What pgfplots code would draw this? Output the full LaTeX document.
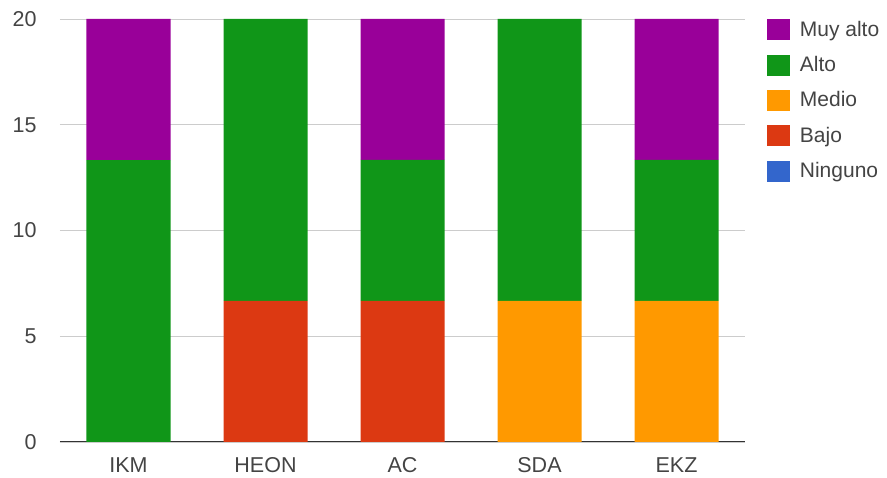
\documentclass[border=0pt]{standalone}
\usepackage{pgfplots}
\pgfplotsset{compat=1.18}
\usepackage{fontspec}
\setmainfont{Liberation Sans}
\definecolor{muyalto}{HTML}{990099}
\definecolor{alto}{HTML}{109618}
\definecolor{medio}{HTML}{FF9900}
\definecolor{bajo}{HTML}{DC3912}
\definecolor{ninguno}{HTML}{3366CC}
\definecolor{txt}{HTML}{444444}
\begin{document}
\begin{tikzpicture}
\begin{axis}[
  scale only axis,
  width=685pt, height=423pt,
  ybar stacked,
  bar width=84pt,
  xmin=-0.5, xmax=4.5,
  ymin=0, ymax=20,
  xtick={0,1,2,3,4},
  xticklabels={IKM,HEON,AC,SDA,EKZ},
  ytick={0,5,10,15,20},
  axis line style={draw=none},
  major tick length=0pt,
  ymajorgrids,
  grid style={draw=black!20, line width=0.8pt},
  tick label style={font=\fontsize{21.5}{25}\selectfont, text=txt},
  /pgf/number format/assume math mode=true,
  yticklabel style={xshift=-20pt},
  xticklabel style={yshift=-12pt},
  legend style={at={(1.032,1.0)}, anchor=north west, draw=none,
    font=\fontsize{21}{25}\selectfont, text=txt,
    row sep=14pt, inner sep=0pt, outer sep=0pt,
    /tikz/every odd column/.append style={column sep=8pt}},
  legend cell align=left,
  reverse legend,
  legend image code/.code={\fill[#1] (0pt,-11pt) rectangle (23pt,10pt);},
  clip=false,
]
\addplot[fill=ninguno, draw=none] coordinates {(0,0) (1,0) (2,0) (3,0) (4,0)};
\addplot[fill=bajo, draw=none] coordinates {(0,0) (1,6.667) (2,6.667) (3,0) (4,0)};
\addplot[fill=medio, draw=none] coordinates {(0,0) (1,0) (2,0) (3,6.667) (4,6.667)};
\addplot[fill=alto, draw=none] coordinates {(0,13.333) (1,13.333) (2,6.667) (3,13.333) (4,6.667)};
\addplot[fill=muyalto, draw=none] coordinates {(0,6.667) (1,0) (2,6.667) (3,0) (4,6.667)};
\legend{Ninguno,Bajo,Medio,Alto,Muy alto}
\draw[black!80, line width=1pt] (rel axis cs:0,0) -- (rel axis cs:1,0);
\end{axis}
\pgfresetboundingbox
\path (-60pt,-36pt) rectangle (827pt,442pt);
\end{tikzpicture}
\end{document}
